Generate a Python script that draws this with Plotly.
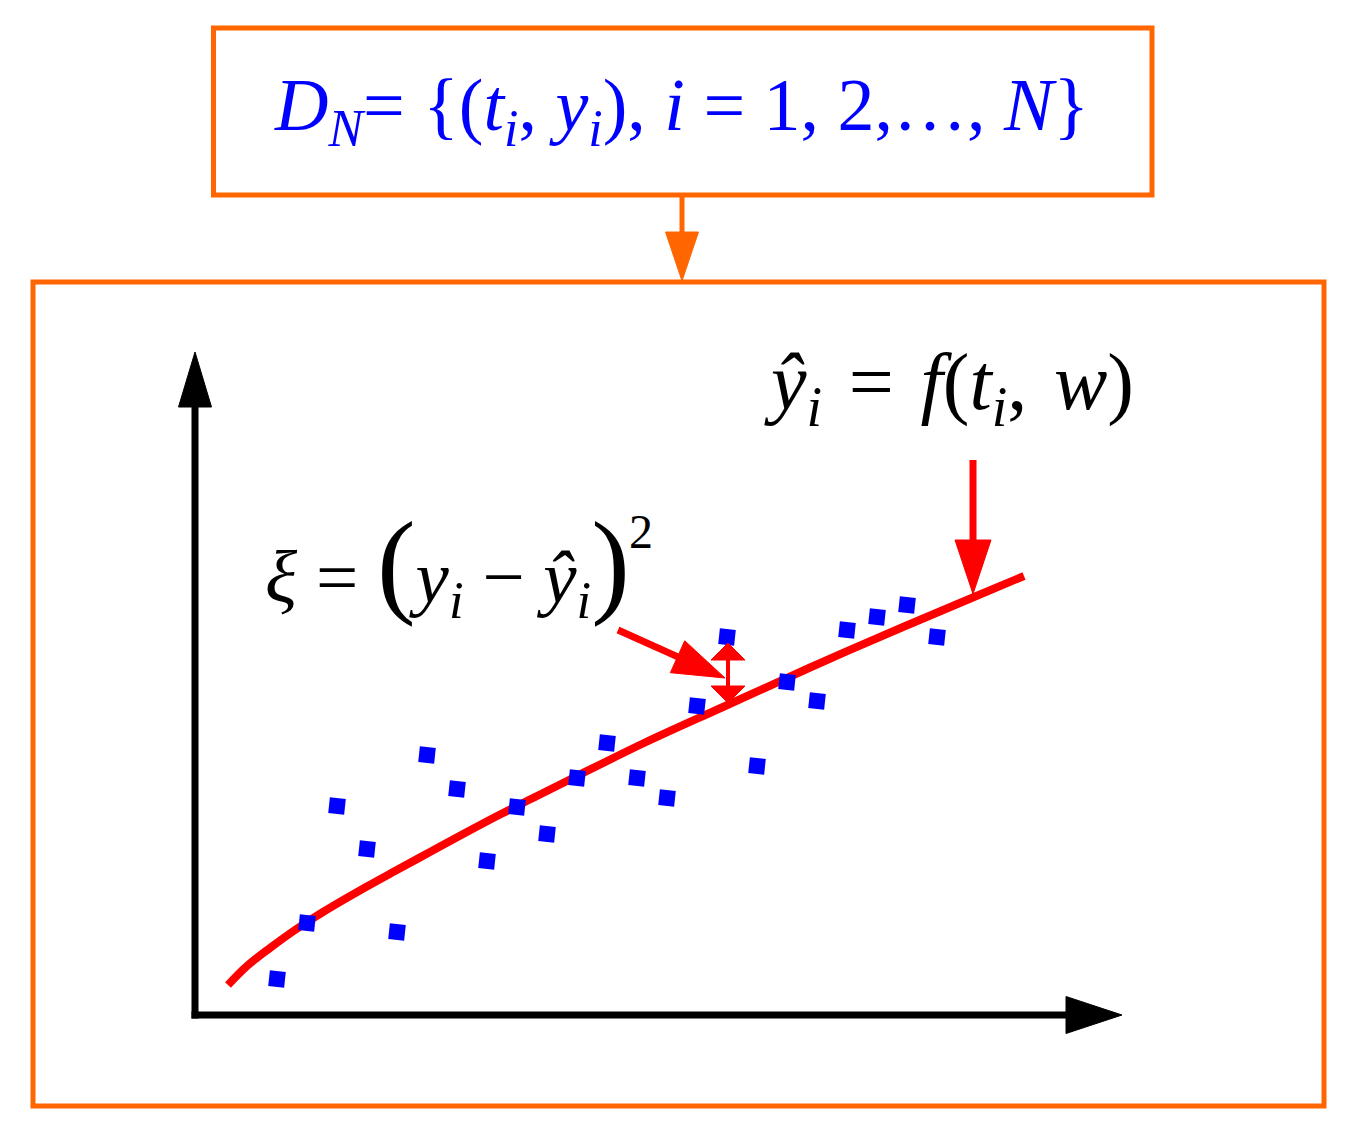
import plotly.graph_objects as go

# ---- data (diagram units; origin at axes corner) ----
t_obs = [0.82, 1.12, 1.42, 1.72, 2.02, 2.32, 2.62, 2.92, 3.22, 3.52, 3.82, 4.12,
         4.42, 4.72, 5.02, 5.32, 5.62, 5.92, 6.22, 6.52, 6.82, 7.12, 7.42]
y_obs = [0.36, 0.92, 2.09, 1.66, 0.83, 2.60, 2.26, 1.54, 2.08, 1.81, 2.37, 2.72,
         2.37, 2.17, 3.09, 3.78, 2.49, 3.33, 3.14, 3.85, 3.98, 4.10, 3.78]

t_fit = [0.33, 0.52, 0.75, 1.00, 1.28, 1.71, 2.00, 2.35, 2.70, 3.06, 3.42, 3.78, 4.49,
         5.28, 6.14, 7.08, 7.79, 8.29]
y_fit = [0.30, 0.49, 0.67, 0.85, 1.03, 1.28, 1.44, 1.63, 1.82, 2.01, 2.19, 2.37, 2.72,
         3.08, 3.47, 3.88, 4.18, 4.39]

ORANGE = "#FF6600"
RED = "#FF0000"
BLUE = "#0000FF"
FONT = "Liberation Serif"

fig = go.Figure()

fig.add_trace(go.Scatter(x=t_fit, y=y_fit, mode="lines", line=dict(color=RED, width=8, shape="spline"),
                         hoverinfo="skip", showlegend=False))
fig.add_trace(go.Scatter(x=t_obs, y=y_obs, mode="markers",
                         marker=dict(symbol="square", size=16, color=BLUE, angle=6, line=dict(width=0)),
                         showlegend=False))

shapes = []

def rect(x0, y0, x1, y1, color, w):
    shapes.append(dict(type="rect", xref="x", yref="y", x0=x0, y0=y0, x1=x1, y1=y1,
                       line=dict(color=color, width=w), fillcolor="rgba(0,0,0,0)", layer="below"))

def arrow(tail, tip, hl, hw, color, sw, double=False):
    (x0, y0), (x1, y1) = tail, tip
    dx, dy = x1 - x0, y1 - y0
    L = (dx * dx + dy * dy) ** 0.5
    ux, uy = dx / L, dy / L
    px, py = -uy, ux
    sx0, sy0 = (x0 + ux * hl, y0 + uy * hl) if double else (x0, y0)
    sx1, sy1 = x1 - ux * hl * 0.9, y1 - uy * hl * 0.9
    shapes.append(dict(type="line", xref="x", yref="y", x0=sx0, y0=sy0, x1=sx1, y1=sy1,
                       line=dict(color=color, width=sw)))
    def head(tx, ty, vx, vy):
        bx, by = tx - vx * hl, ty - vy * hl
        pts = [(tx, ty), (bx + px * hw / 2, by + py * hw / 2), (bx - px * hw / 2, by - py * hw / 2)]
        path = "M " + " L ".join(f"{a:.4f},{b:.4f}" for a, b in pts) + " Z"
        shapes.append(dict(type="path", xref="x", yref="y", path=path, fillcolor=color,
                           line=dict(color=color, width=1)))
    head(x1, y1, ux, uy)
    if double:
        head(x0, y0, -ux, -uy)

# boxes
rect(0.185, 8.20, 9.57, 9.87, ORANGE, 5)
rect(-1.62, -0.91, 11.29, 7.33, ORANGE, 5)
# connector arrow
arrow((4.87, 8.20), (4.87, 7.34), 0.49, 0.33, ORANGE, 5)
# axes
arrow((0.0, -0.035), (0.0, 6.63), 0.55, 0.33, "black", 7)
arrow((-0.035, 0.0), (9.27, 0.0), 0.56, 0.37, "black", 7)
# red arrows
arrow((7.78, 5.55), (7.78, 4.21), 0.54, 0.36, RED, 7)
arrow((4.23, 3.85), (5.30, 3.37), 0.52, 0.35, RED, 7)
arrow((5.33, 3.12), (5.33, 3.72), 0.17, 0.34, RED, 4, double=True)

SP = "\u2004"
annotations = [
    dict(x=4.86, y=9.05, xref="x", yref="y", showarrow=False, xanchor="center", yanchor="middle",
         text="<i>D</i><sub><i>N</i></sub>= {(<i>t</i><sub><i>i</i></sub>, <i>y</i><sub><i>i</i></sub>), "
              "<i>i</i> = 1, 2,…, <i>N</i>}",
         font=dict(family=FONT, size=74, color=BLUE)),
    dict(x=7.54, y=6.27, xref="x", yref="y", showarrow=False, xanchor="center", yanchor="middle",
         text=f"<i>ŷ</i><sub><i>i</i></sub>{SP}={SP}<i>f</i>(<i>t</i><sub><i>i</i></sub>,{SP}<i>w</i>)",
         font=dict(family=FONT, size=80, color="black")),
    dict(x=2.52, y=4.51, xref="x", yref="y", showarrow=False, xanchor="center", yanchor="middle",
         text="<i>ξ</i> = <span style='font-size:116px'>(</span><i>y</i><sub><i>i</i></sub> − "
              "<i>ŷ</i><sub><i>i</i></sub><span style='font-size:116px'>)</span>",
         font=dict(family=FONT, size=75, color="black")),
    dict(x=4.46, y=4.84, xref="x", yref="y", showarrow=False, xanchor="center", yanchor="middle",
         text="2", font=dict(family=FONT, size=48, color="black")),
]

# the page body adds an 8px offset; shrink canvas and shift ranges so the diagram sits in place
fig.update_layout(
    width=1342, height=1123,
    margin=dict(l=0, r=0, t=0, b=0),
    paper_bgcolor="white", plot_bgcolor="white",
    xaxis=dict(range=[-1.87, 11.55], visible=False, fixedrange=True),
    yaxis=dict(range=[-1.16, 10.07], visible=False, fixedrange=True),
    shapes=shapes, annotations=annotations, showlegend=False,
)

fig.write_html("out.html")
